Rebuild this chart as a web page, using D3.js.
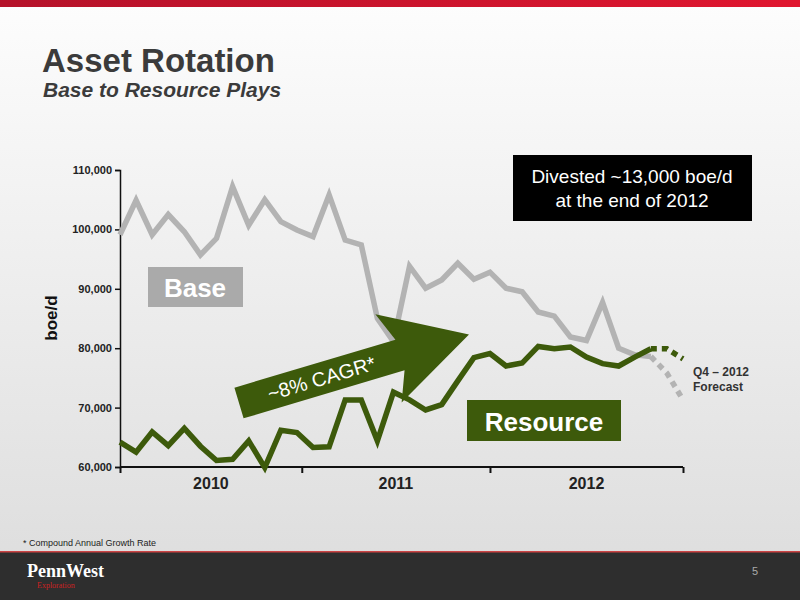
<!DOCTYPE html>
<html><head><meta charset="utf-8">
<script src="https://cdn.jsdelivr.net/npm/d3@7"></script>
<style>body{margin:0}svg{display:block;font-family:Arial,"Liberation Sans",sans-serif}</style>
</head><body><div id="chart-area"></div>
<script>
// monthly production, index 0 = Jan 2010
const baseValues = [99100,104900,99100,102500,99600,95700,98500,107200,100700,105000,101300,99900,98800,105800,98200,97400,85000,81100,
  93800,90100,91500,94300,91600,92800,90100,89500,86100,85400,81900,81300,87700,80000,78900,78600]
const baseForecast = [78600,75800,71300]
const resourceValues = [64200,62500,65900,63600,66500,63500,61100,61300,64400,59900,66200,65800,63300,63400,71300,71300,64400,72600,
  71300,69600,70500,74500,78400,79100,77000,77500,80300,79900,80200,78500,77400,77000,78500,79900]
const resourceForecast = [79900,79900,78200]
const yearLabels = ["2010", "2011", "2012"]
const yearBounds = [0, 11.3, 23, 35]
const yTicks = [60000, 70000, 80000, 90000, 100000, 110000]

const svg = d3.select("#chart-area").append("svg").attr("width", 800).attr("height", 600)
const defs = svg.append("defs")
const bg = defs.append("linearGradient").attr("id", "bg").attr("x1", 0).attr("y1", 0).attr("x2", 0).attr("y2", 1)
bg.append("stop").attr("offset", "0").attr("stop-color", "#fdfdfd")
bg.append("stop").attr("offset", "1").attr("stop-color", "#dcdcdc")
const red = defs.append("linearGradient").attr("id", "red")
red.append("stop").attr("offset", "0").attr("stop-color", "#b5122a")
red.append("stop").attr("offset", "1").attr("stop-color", "#e0162f")

svg.append("rect").attr("width", 800).attr("height", 600).attr("fill", "url(#bg)")
svg.append("rect").attr("width", 800).attr("height", 7).attr("fill", "url(#red)")
svg.append("rect").attr("y", 552).attr("width", 800).attr("height", 48).attr("fill", "#2e2e2e")
svg.append("rect").attr("y", 551).attr("width", 800).attr("height", 1.5).attr("fill", "#c44")

svg.append("text").attr("x", 42).attr("y", 72).attr("font-size", 33).attr("font-weight", "bold")
  .attr("fill", "#3b3b3b").text("Asset Rotation")
svg.append("text").attr("x", 43).attr("y", 97).attr("font-size", 21).attr("font-weight", "bold")
  .attr("font-style", "italic").attr("fill", "#3b3b3b").text("Base to Resource Plays")

const x = d3.scaleLinear().domain([0, 35]).range([120, 683])
const y = d3.scaleLinear().domain([60000, 110000]).range([467, 170])

const g = svg.append("g")
g.append("g").attr("transform", "translate(120,0)")
  .call(d3.axisLeft(y).tickValues(yTicks).tickSize(5).tickFormat(d3.format(",")))
  .call(a => a.selectAll("text").attr("font-size", 11).attr("font-weight", "bold").attr("fill", "#222").attr("font-family", "Arial"))
  .call(a => a.selectAll("path,line").attr("stroke", "#111").attr("stroke-width", 1.5))
g.append("g").attr("transform", "translate(0,467)")
  .call(d3.axisBottom(x).tickValues(yearBounds).tickSize(6).tickFormat(""))
  .call(a => a.selectAll("path,line").attr("stroke", "#111").attr("stroke-width", 2))
  .call(a => a.select(".domain").attr("d", "M120,0H" + x(35)))
g.selectAll(".yr").data(yearLabels).enter().append("text")
  .attr("x", (d, i) => x((yearBounds[i] + yearBounds[i + 1]) / 2)).attr("y", 489)
  .attr("text-anchor", "middle").attr("font-size", 16).attr("font-weight", "bold").attr("fill", "#222").text(d => d)
svg.append("text").attr("transform", "translate(57,318) rotate(-90)").attr("text-anchor", "middle")
  .attr("font-size", 17).attr("font-weight", "bold").attr("fill", "#111").text("boe/d")

const line = d3.line().x(d => x(d[0])).y(d => y(d[1]))
const n = baseValues.length
const draw = (vals, off, color, dash) => g.append("path")
  .datum(vals.map((v, i) => [i + off, v])).attr("d", line)
  .attr("fill", "none").attr("stroke", color).attr("stroke-width", 5.5)
  .attr("stroke-linejoin", "miter").attr("stroke-dasharray", dash)
draw(baseValues, 0, "#b3b3b3", null)
draw(baseForecast, n - 1, "#b3b3b3", "6,5")
draw(resourceValues, 0, "#3d5a0b", null)
draw(resourceForecast, n - 1, "#3d5a0b", "6,5")

// arrow
const arr = svg.append("g").attr("transform", "translate(239,403) rotate(-16.6)")
arr.append("path").attr("d", "M0,-16 L168,-16 L156,-46 L240,0 L156,46 L168,16 L0,16 Z").attr("fill", "#3d5a0b")
arr.append("text").attr("x", 86).attr("y", 7).attr("text-anchor", "middle").attr("font-size", 20)
  .attr("fill", "#fff").text("~8% CAGR*")

// labels
svg.append("rect").attr("x", 148).attr("y", 267).attr("width", 95).attr("height", 40).attr("fill", "#aaa")
svg.append("text").attr("x", 195).attr("y", 297).attr("text-anchor", "middle").attr("font-size", 26)
  .attr("font-weight", "bold").attr("fill", "#fff").text("Base")
svg.append("rect").attr("x", 467).attr("y", 400).attr("width", 154).attr("height", 41).attr("fill", "#3d5a0b")
svg.append("text").attr("x", 544).attr("y", 431).attr("text-anchor", "middle").attr("font-size", 26)
  .attr("font-weight", "bold").attr("fill", "#fff").text("Resource")
svg.append("rect").attr("x", 513).attr("y", 155).attr("width", 239).attr("height", 66).attr("fill", "#000")
svg.append("text").attr("x", 632).attr("y", 183).attr("text-anchor", "middle").attr("font-size", 19)
  .attr("fill", "#fff").text("Divested ~13,000 boe/d")
svg.append("text").attr("x", 632).attr("y", 207).attr("text-anchor", "middle").attr("font-size", 19)
  .attr("fill", "#fff").text("at the end of 2012")
svg.append("text").attr("x", 693).attr("y", 376).attr("font-size", 12).attr("font-weight", "bold").attr("fill", "#333").text("Q4 – 2012")
svg.append("text").attr("x", 693).attr("y", 391).attr("font-size", 12).attr("font-weight", "bold").attr("fill", "#333").text("Forecast")

svg.append("text").attr("x", 23).attr("y", 546).attr("font-size", 9).attr("fill", "#222").text("* Compound Annual Growth Rate")
svg.append("text").attr("x", 27).attr("y", 577).attr("font-size", 18).attr("font-weight", "bold")
  .attr("font-family", "Liberation Serif, serif").attr("fill", "#fff").text("PennWest")
svg.append("text").attr("x", 37).attr("y", 588).attr("font-size", 8)
  .attr("font-family", "Liberation Serif, serif").attr("fill", "#c22").text("Exploration")
svg.append("text").attr("x", 752).attr("y", 575).attr("font-size", 11).attr("fill", "#aaa").text("5")
</script></body></html>
